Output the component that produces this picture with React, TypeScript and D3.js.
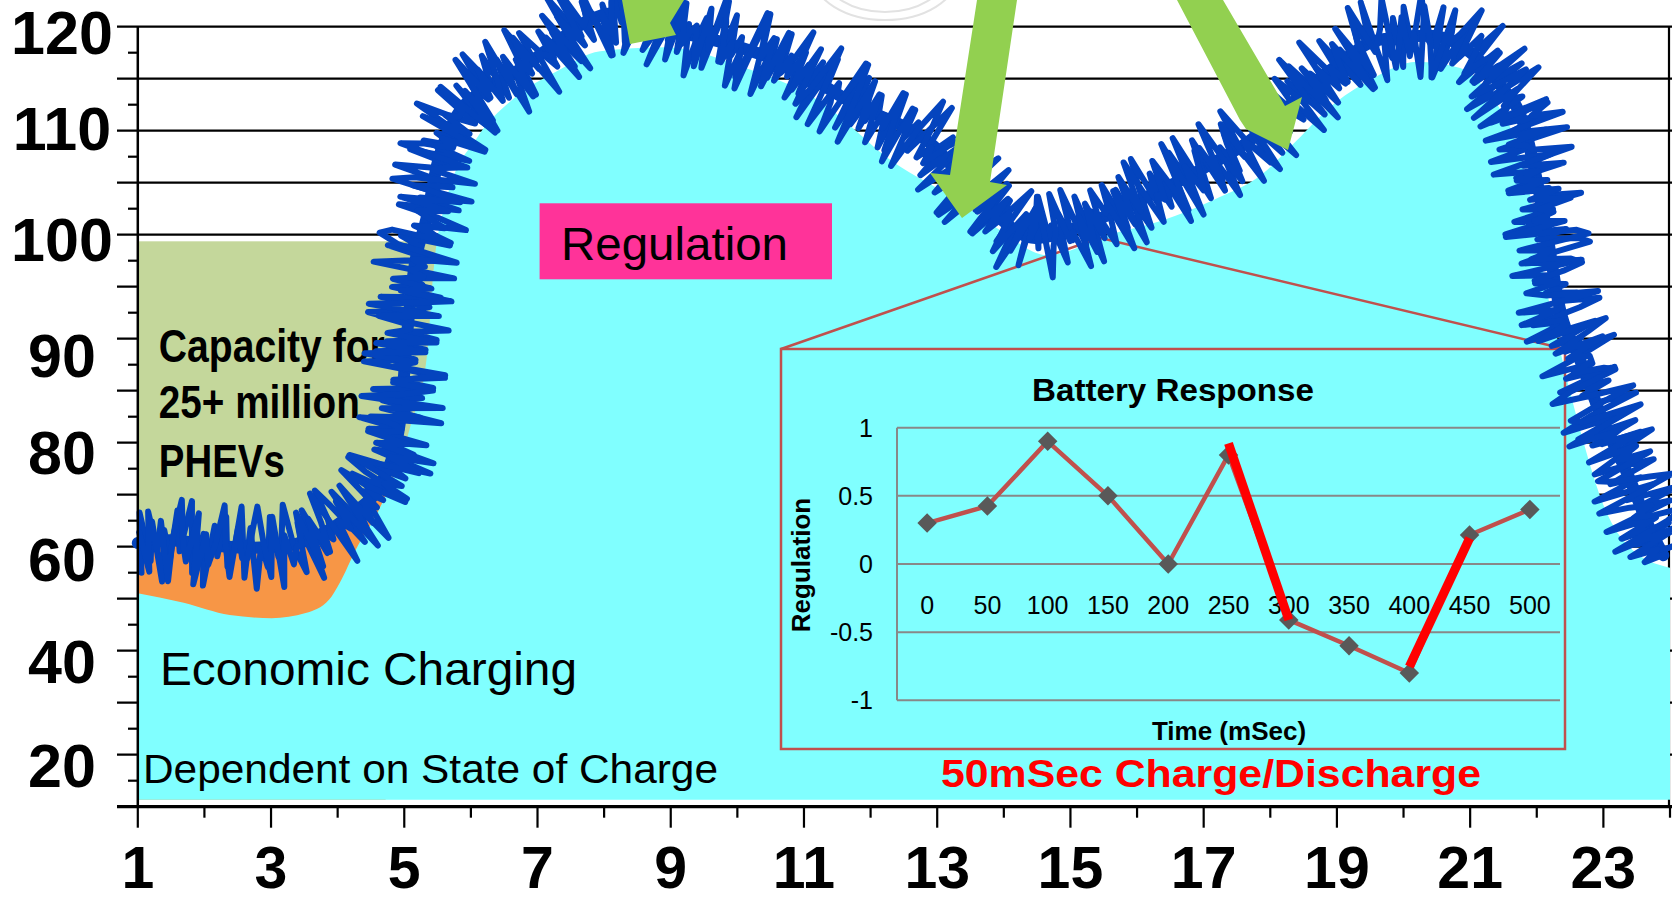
import React, { useEffect, useRef } from "react";
import * as d3 from "d3";

// ---------------- data ----------------
const hourTicks = [1, 2, 3, 4, 5, 6, 7, 8, 9, 10, 11, 12, 13, 14, 15, 16, 17, 18, 19, 20, 21, 22, 23, 24];
const hourLabels = [1, 3, 5, 7, 9, 11, 13, 15, 17, 19, 21, 23];
const valueLabels = [120, 110, 100, 90, 80, 60, 40, 20];

// "Economic Charging" load (smooth base area)
const economicHours = [1.0, 1.69, 2.38, 3.01, 3.52, 3.87, 4.03, 4.27, 4.62, 4.94, 5.09, 5.34, 5.43, 5.64, 6.09, 6.63, 7.29, 7.94, 8.92, 10.06, 11.21, 12.35, 13.22, 13.94, 14.65, 15.64, 16.39, 17.14, 17.89, 18.4, 18.9, 19.5, 20.2, 20.85, 21.3, 21.67, 21.9, 22.09, 22.35, 22.65, 23.03, 23.4, 24.0];
const economicValues = [53.3, 51.4, 49.0, 48.4, 49.4, 52.0, 55.3, 61.7, 69.2, 78.5, 82.6, 89.9, 96.7, 103.7, 109.1, 113.0, 115.9, 118.0, 118.4, 116.4, 112.9, 106.9, 103.8, 100.8, 98.6, 100.5, 101.7, 103.5, 105.9, 108.9, 112.2, 115.0, 116.9, 116.25, 113.4, 109.0, 103.9, 97.3, 90.4, 82.3, 69.2, 62.1, 58.3];
const economicBase = 13.3;

// Regulation signal (centre of the noisy blue band)
const regulationHours = [1.0, 1.48, 2.08, 2.68, 3.28, 3.73, 4.19, 4.68, 4.94, 5.04, 5.13, 5.34, 5.49, 5.76, 6.18, 6.69, 7.19, 7.71, 8.31, 9.01, 9.74, 10.64, 11.78, 12.94, 13.72, 14.47, 15.22, 16.04, 16.94, 17.7, 18.3, 18.9, 19.65, 20.37, 21.0, 21.45, 21.83, 22.0, 22.17, 22.32, 22.65, 22.99, 23.4, 23.67, 23.9];
const regulationValues = [63.0, 63.5, 62.6, 62.1, 62.6, 64.5, 68.2, 74.8, 83.3, 91.6, 96.7, 102.0, 106.6, 110.9, 113.9, 115.9, 118.4, 121.0, 122.1, 120.2, 119.0, 116.9, 112.4, 108.4, 103.1, 100.1, 101.3, 103.5, 106.2, 108.9, 112.4, 116.0, 119.2, 119.6, 117.9, 114.5, 109.8, 105.3, 99.9, 94.7, 89.5, 83.3, 74.8, 66.4, 60.7];
// hand-typed jitter of the regulation signal, two interleaved passes (0..9, 4.5 = centre)
const regulationJitterA =
  "8172937160" + "4839261750" + "8294716305" + "8291746302" + "8174953618" +
  "2074927381" + "5094627183" + "9506172849" + "3057182649" + "0371528649" +
  "6183927405" + "7182639405" + "7182936041" + "7295830614" + "7293850617" +
  "2493816059" + "3728406173" + "9528407163" + "8503927164" + "0837291546" +
  "9081736254" + "8192637405" + "6281947350" + "9374618250" + "7492816053" +
  "8260719348" + "5172948306" + "2739416085" + "1849372605" + "8364917205" +
  "4928173605" + "7183964250" + "9472816305" + "6193827450" + "8273619405" +
  "3917264085" + "9261748350" + "7384926105" + "8195736240" + "2849173605" +
  "9371826450" + "6928173045" + "8417392605" + "1938274650";
const regulationJitterB =
  "3816294057" + "1937405826" + "6204819375" + "5182730946" + "2917460385" +
  "7038492615" + "4172905836" + "9360718254" + "1805937264" + "6492018375" +
  "3718502946" + "8026491735" + "5193806274" + "0728361945" + "6381927054" +
  "1947305826" + "7250938164" + "3816027495" + "9405281736" + "2718604935" +
  "5039172846" + "1862940375" + "7314058269" + "4906182735" + "8271530964" +
  "0659382714" + "3927160485" + "6148093752" + "2705831946" + "9381624057" +
  "1560928374" + "7429183065" + "3086274915" + "8915306247" + "4270851936" +
  "6813092754" + "0594738261" + "5362910847" + "2137486095" + "9548027163" +
  "3621795048" + "7049361825" + "1875204963" + "6302918574";

// PHEV capacity block and battery-covered part
const capacityHours = [1, 5.5];
const capacityTop = 99.8;
const capacityBottom = 50;
const phevEndHour = 4.72;

// callout apex (zoomed region)
const calloutHour = 15.44;
const calloutValue = 100.1;

// Battery Response inset
const batteryTimes = ["0", "50", "100", "150", "200", "250", "300", "350", "400", "450", "500"];
const batteryValues = [0.3, 0.425, 0.9, 0.5, 0.0, 0.8, -0.41, -0.6, -0.8, 0.213, 0.4];
const batteryTicks = [1, 0.5, 0, -0.5, -1];
const highlightFrom = ["250", "400"];
const highlightTo = ["300", "450"];
const highlightStart = [0.885, -0.753];
const highlightEnd = [-0.41, 0.189];

// ---------------- layout ----------------
const W = 1672;
const H = 901;
const FONT = "'Liberation Sans', Arial, Helvetica, sans-serif";
const PLOT = { left: 137.8, right: 1670, top: 26.7, bottom: 806.7, gridStart: 117 };
const LABEL_CENTRES = [32, 128, 239, 355, 452, 559, 661, 765];
const TICK_COUNT = 30;
const INSET = { x: 781, y: 349, w: 784, h: 400, plotL: 897, plotR: 1560, plotT: 427.7, plotB: 700.3 };
const NOISE_MAX = 41;
const NOISE_POW = 1.25;
const CORE_WIDTH = 12;
const ARROWS = [
  [[622, 0], [630, 44], [676, 35], [670, 23], [684, 0]],
  [[977, 0], [950, 175], [930, 173], [962, 218], [1007, 185], [990, 182], [1017, 0]],
  [[1177, 0], [1240, 120], [1246, 129], [1288, 150], [1302, 97], [1285, 106], [1223, 0]],
];
const C = {
  cyan: "#80FFFF",
  green: "#C4D79B",
  orange: "#F79646",
  blue: "#0444BE",
  arrow: "#92D050",
  pink: "#FF3399",
  inset: "#C0504D",
  marker: "#595959",
  insetGrid: "#888888",
};

export default function App() {
  const ref = useRef<SVGSVGElement>(null);

  useEffect(() => {
    const svg = d3.select(ref.current as SVGSVGElement);
    svg.selectAll("*").remove();

    const x = d3.scaleLinear().domain([1, 24]).range([PLOT.left, PLOT.right]);
    const y = d3.scaleLinear().domain(valueLabels).range(LABEL_CENTRES);
    const tickY = d3.scaleLinear().domain([0, TICK_COUNT]).range([PLOT.bottom, PLOT.top]);

    svg.append("rect").attr("width", W).attr("height", H).attr("fill", "#fff");

    // gridlines
    const grid = svg.append("g");
    d3.range(0, TICK_COUNT + 1, 2).forEach((i) => {
      grid.append("line").attr("x1", PLOT.gridStart).attr("x2", W)
        .attr("y1", tickY(i)).attr("y2", tickY(i))
        .attr("stroke", "#000").attr("stroke-width", 2.2);
    });
    grid.append("line").attr("x1", 1669).attr("x2", 1669).attr("y1", PLOT.top).attr("y2", PLOT.bottom)
      .attr("stroke", "#000").attr("stroke-width", 2.2);

    // capacity block
    svg.append("rect")
      .attr("x", x(capacityHours[0])).attr("y", y(capacityTop))
      .attr("width", x(capacityHours[1]) - x(capacityHours[0]))
      .attr("height", y(capacityBottom) - y(capacityTop))
      .attr("fill", C.green);

    const ridgePts: [number, number][] = regulationHours.map((h, i) => [x(h), y(regulationValues[i])]);
    const econPts: [number, number][] = economicHours.map((h, i) => [x(h), y(economicValues[i])]);

    // orange (PHEV battery) region
    svg.append("clipPath").attr("id", "phevClip").append("rect")
      .attr("x", x(1)).attr("y", 0).attr("width", x(phevEndHour) - x(1)).attr("height", H);
    const areaGen = d3.area<[number, number]>()
      .x((d) => d[0]).y0(y(economicBase)).y1((d) => d[1]).curve(d3.curveMonotoneX);
    svg.append("path").attr("d", areaGen(ridgePts.filter((p, i) => regulationHours[i] <= 5.2)) as string)
      .attr("clip-path", "url(#phevClip)").attr("fill", C.orange);

    // economic charging area
    svg.append("path").attr("d", areaGen(econPts) as string).attr("fill", C.cyan);

    // Regulation label box
    svg.append("rect").attr("x", 539.6).attr("y", 203.3).attr("width", 292.4).attr("height", 76).attr("fill", C.pink);
    svg.append("text").attr("x", 561).attr("y", 260).attr("font-family", FONT).attr("font-size", 46.5)
      .attr("textLength", 227).attr("lengthAdjust", "spacingAndGlyphs").attr("fill", "#000").text("Regulation");

    // annotation texts
    const capLines = [
      { t: "Capacity for", y: 361.7, w: 226 },
      { t: "25+ million", y: 418.3, w: 201 },
      { t: "PHEVs", y: 476.7, w: 126 },
    ];
    capLines.forEach((l) => {
      svg.append("text").attr("x", 158.8).attr("y", l.y).attr("font-family", FONT).attr("font-weight", "bold")
        .attr("font-size", 46).attr("textLength", l.w).attr("lengthAdjust", "spacingAndGlyphs").attr("fill", "#000").text(l.t);
    });
    svg.append("text").attr("x", 160).attr("y", 685).attr("font-family", FONT).attr("font-size", 47)
      .attr("textLength", 417).attr("lengthAdjust", "spacingAndGlyphs").attr("fill", "#000").text("Economic Charging");
    svg.append("text").attr("x", 143).attr("y", 782.7).attr("font-family", FONT).attr("font-size", 41)
      .attr("textLength", 575).attr("lengthAdjust", "spacingAndGlyphs").attr("fill", "#000").text("Dependent on State of Charge");
    svg.append("text").attr("x", 941).attr("y", 786.5).attr("font-family", FONT).attr("font-size", 39).attr("font-weight", "bold")
      .attr("textLength", 540).attr("lengthAdjust", "spacingAndGlyphs").attr("fill", "#FF0000").text("50mSec Charge/Discharge");

    // callout lines
    const apex: [number, number] = [x(calloutHour), y(calloutValue)];
    svg.append("path")
      .attr("d", d3.line()([[INSET.x, INSET.y], apex, [INSET.x + INSET.w, INSET.y]]) as string)
      .attr("fill", "none").attr("stroke", C.inset).attr("stroke-width", 2.5);

    // ---------- inset ----------
    const ins = svg.append("g");
    ins.append("rect").attr("x", INSET.x).attr("y", INSET.y).attr("width", INSET.w).attr("height", INSET.h)
      .attr("fill", "none").attr("stroke", C.inset).attr("stroke-width", 2.5);
    const bx = d3.scaleBand().domain(batteryTimes).range([INSET.plotL, INSET.plotR]);
    const by = d3.scaleLinear().domain([-1, 1]).range([INSET.plotB, INSET.plotT]);
    const bcx = (c: string) => (bx(c) as number) + bx.bandwidth() / 2;
    batteryTicks.forEach((t) => {
      ins.append("line").attr("x1", INSET.plotL).attr("x2", INSET.plotR).attr("y1", by(t)).attr("y2", by(t))
        .attr("stroke", C.insetGrid).attr("stroke-width", 2);
      ins.append("text").attr("x", 873).attr("y", by(t) + 9).attr("text-anchor", "end")
        .attr("font-family", FONT).attr("font-size", 25).attr("fill", "#000").text(String(t));
    });
    ins.append("line").attr("x1", INSET.plotL).attr("x2", INSET.plotL).attr("y1", by(1)).attr("y2", by(-1))
      .attr("stroke", C.insetGrid).attr("stroke-width", 2);
    batteryTimes.forEach((c) => {
      ins.append("text").attr("x", bcx(c)).attr("y", 614).attr("text-anchor", "middle")
        .attr("font-family", FONT).attr("font-size", 25).attr("fill", "#000").text(c);
    });
    ins.append("text").attr("x", 1173).attr("y", 400.7).attr("text-anchor", "middle").attr("font-family", FONT)
      .attr("font-size", 31).attr("font-weight", "bold").attr("textLength", 282).attr("lengthAdjust", "spacingAndGlyphs")
      .attr("fill", "#000").text("Battery Response");
    ins.append("text").attr("transform", "translate(810,565) rotate(-90)").attr("text-anchor", "middle")
      .attr("font-family", FONT).attr("font-size", 26).attr("font-weight", "bold").attr("fill", "#000").text("Regulation");
    ins.append("text").attr("x", 1229).attr("y", 740).attr("text-anchor", "middle").attr("font-family", FONT)
      .attr("font-size", 26).attr("font-weight", "bold").attr("fill", "#000").text("Time (mSec)");
    const bLine = d3.line<number>().x((d, i) => bcx(batteryTimes[i])).y((d) => by(d));
    ins.append("path").attr("d", bLine(batteryValues) as string).attr("fill", "none")
      .attr("stroke", C.inset).attr("stroke-width", 4.5).attr("stroke-linejoin", "round");
    const sym = d3.symbol().type(d3.symbolSquare).size(190);
    batteryValues.forEach((v, i) => {
      ins.append("path").attr("d", sym() as string)
        .attr("transform", `translate(${bcx(batteryTimes[i])},${by(v)}) rotate(45)`).attr("fill", C.marker);
    });
    highlightFrom.forEach((f, i) => {
      ins.append("line").attr("x1", bcx(f)).attr("y1", by(highlightStart[i]))
        .attr("x2", bcx(highlightTo[i])).attr("y2", by(highlightEnd[i]))
        .attr("stroke", "#FF0000").attr("stroke-width", 9);
    });

    // ---------- noisy regulation line ----------
    const ridgeLine = d3.line<[number, number]>().curve(d3.curveMonotoneX);
    const ridgeD = ridgeLine(ridgePts) as string;
    const core = svg.append("path").attr("d", ridgeD).attr("fill", "none")
      .attr("stroke", C.blue).attr("stroke-width", CORE_WIDTH).attr("stroke-linecap", "round");
    const node = core.node() as SVGPathElement;
    const L = node.getTotalLength();
    const jitterPass = (str: string, phase: number): [number, number][] => {
      const digits = str.split("").map(Number);
      const N = digits.length;
      return digits.map((dg, i) => {
        const s = Math.min(L, ((i + phase) / (N - 1)) * L);
        const p = node.getPointAtLength(s);
        const a = node.getPointAtLength(Math.max(0, s - 4));
        const b = node.getPointAtLength(Math.min(L, s + 4));
        const dx = b.x - a.x;
        const dy = b.y - a.y;
        const len = Math.hypot(dx, dy) || 1;
        const u = (dg - 4.5) / 4.5;
        const off = Math.sign(u) * Math.pow(Math.abs(u), NOISE_POW) * NOISE_MAX;
        return [p.x + (-dy / len) * off, p.y + (dx / len) * off];
      });
    };
    [[regulationJitterA, 0], [regulationJitterB, 0.5]].forEach(([str, phase]) => {
      svg.append("path").attr("d", d3.line()(jitterPass(str as string, phase as number)) as string).attr("fill", "none")
        .attr("stroke", C.blue).attr("stroke-width", 6).attr("stroke-linejoin", "round").attr("stroke-linecap", "round");
    });

    // green arrows
    ARROWS.forEach((poly) => {
      svg.append("polygon").attr("points", poly.map((p) => p.join(",")).join(" ")).attr("fill", C.arrow);
    });

    // faint arcs at top
    [[72, 45], [60, 37]].forEach(([rx, ry]) => {
      svg.append("ellipse").attr("cx", 885).attr("cy", -25).attr("rx", rx).attr("ry", ry)
        .attr("fill", "none").attr("stroke", "#E2E2E2").attr("stroke-width", 2);
    });

    // ---------- axes ----------
    const ax = svg.append("g");
    ax.append("line").attr("x1", PLOT.left).attr("x2", PLOT.left).attr("y1", PLOT.top).attr("y2", PLOT.bottom)
      .attr("stroke", "#000").attr("stroke-width", 2.5);
    d3.range(1, TICK_COUNT, 2).forEach((i) => {
      ax.append("line").attr("x1", 128).attr("x2", PLOT.left).attr("y1", tickY(i)).attr("y2", tickY(i))
        .attr("stroke", "#000").attr("stroke-width", 2.2);
    });
    ax.append("line").attr("x1", PLOT.gridStart).attr("x2", W).attr("y1", PLOT.bottom).attr("y2", PLOT.bottom)
      .attr("stroke", "#000").attr("stroke-width", 3.2);
    hourTicks.forEach((h) => {
      const major = hourLabels.includes(h);
      ax.append("line").attr("x1", x(h)).attr("x2", x(h)).attr("y1", PLOT.bottom).attr("y2", PLOT.bottom + (major ? 21 : 11))
        .attr("stroke", "#000").attr("stroke-width", 2.2);
    });
    hourLabels.forEach((h) => {
      ax.append("text").attr("x", x(h)).attr("y", 888).attr("text-anchor", "middle").attr("font-family", FONT)
        .attr("font-weight", "bold").attr("font-size", 59).attr("fill", "#000").text(String(h));
    });
    valueLabels.forEach((v) => {
      ax.append("text").attr("x", 62).attr("y", y(v) + 21.8).attr("text-anchor", "middle").attr("font-family", FONT)
        .attr("font-weight", "bold").attr("font-size", 61).attr("fill", "#000").text(String(v));
    });
  }, []);

  return (
    <svg
      ref={ref}
      width={W}
      height={H}
      style={{ position: "absolute", left: 0, top: 0, display: "block", background: "#fff" }}
    />
  );
}
